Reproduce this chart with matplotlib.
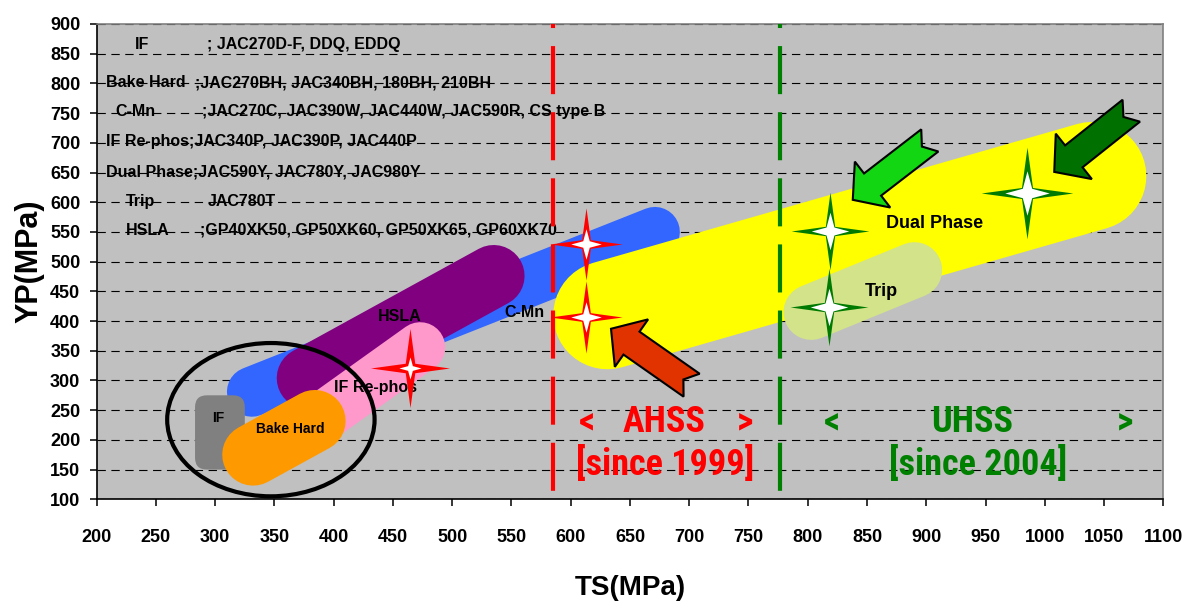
import numpy as np
import matplotlib
matplotlib.use("Agg")
import matplotlib.pyplot as plt
from matplotlib import font_manager as fm
from matplotlib.path import Path
from matplotlib.patches import Ellipse, FancyBboxPatch, Polygon

plt.rcParams['font.family'] = ['Liberation Sans', 'DejaVu Sans']
plt.rcParams['font.weight'] = 'bold'
plt.rcParams['lines.scale_dashes'] = False

# steel families: capsule from (TS, YP) start to (TS, YP) end
band_names = ['C-Mn', 'HSLA', 'IF Re-phos', 'Bake Hard', 'Dual Phase', 'Trip']
band_start = [(331, 281), (378, 304), (393, 242), (332, 175), (631, 410), (803, 415)]
band_end = [(671, 550), (535, 476), (473, 356), (384, 232), (1040, 644), (890, 486)]
if_box_ts = [283, 325]
if_box_yp = [150, 275]

# star markers (TS, YP)
red_stars_ts = [613, 613, 464]
red_stars_yp = [530, 407, 321]
green_stars_ts = [819, 818, 985]
green_stars_yp = [552, 424, 616]

# arrows (tip, tail) in TS / YP
arrow_tips = [(634, 387), (838, 604), (1008, 651)]
arrow_tails = [(702, 292), (903, 704), (1073, 754)]

ahss_ts = 585
uhss_ts = 777

legend_names = ['IF', 'Bake Hard', 'C-Mn', 'IF Re-phos;JAC340P, JAC390P, JAC440P',
                'Dual Phase;JAC590Y, JAC780Y, JAC980Y', 'Trip', 'HSLA']
legend_grades = ['; JAC270D-F, DDQ, EDDQ', ';JAC270BH, JAC340BH, 180BH, 210BH',
                 ';JAC270C, JAC390W, JAC440W, JAC590R, CS type B', '', '',
                 'JAC780T', ';GP40XK50, GP50XK60, GP50XK65, GP60XK70']

x_ticks = list(range(200, 1101, 50))
y_ticks = list(range(100, 901, 50))

# pick a condensed face for the big region labels if one is installed
names = {f.name for f in fm.fontManager.ttflist}
narrow = None
narrow_stretch = 'normal'
for cand in ['Liberation Sans Narrow', 'Arial Narrow', 'Roboto Condensed', 'Open Sans Condensed',
             'Noto Sans Condensed', 'DejaVu Sans Condensed']:
    if cand in names:
        narrow = cand
        break
if narrow is None:
    for f in fm.fontManager.ttflist:
        if f.stretch in ('condensed', 'semi-condensed') and f.weight in ('bold', 700):
            narrow = f.name
            narrow_stretch = f.stretch
            break
region_size = 26 if narrow else 22
if narrow is None:
    narrow = 'Liberation Sans'

fig = plt.figure(figsize=(11.92, 6.13), dpi=100)
ax = fig.add_axes([0.0811, 0.1855, 0.8948, 0.7754])
ax.set_xlim(200, 1100)
ax.set_ylim(100, 900)
ax.set_facecolor('#c0c0c0')

# grid / spines / ticks
ax.set_axisbelow(True)
ax.yaxis.grid(True, color='black', lw=0.8, linestyle=(0, (6, 4)))
ax.set_xticks(x_ticks)
ax.set_yticks(y_ticks)
ax.tick_params(axis='x', direction='out', length=5.3, width=1.1, pad=16, labelsize=13)
ax.tick_params(axis='y', direction='out', length=4.8, width=1.1, pad=7, labelsize=13)
for s in ['left', 'bottom']:
    ax.spines[s].set_color('black')
    ax.spines[s].set_linewidth(1.2)
for s in ['top', 'right']:
    ax.spines[s].set_color('#808080')
    ax.spines[s].set_linewidth(1.2)

ax.set_xlabel('TS(MPa)', fontsize=20, fontweight='bold', labelpad=21)
ax.set_ylabel('YP(MPa)', fontsize=22, fontweight='bold', labelpad=4)

# legend text block (under the grid lines)
leg_x = [232, 208, 216, 208, 208, 225, 225]
grade_x = [293, 283, 289, None, None, 294, 287]
leg_y = [865, 801, 752, 702, 651, 601, 553]
for name, grade, xn, xg, yy in zip(legend_names, legend_grades, leg_x, grade_x, leg_y):
    ax.text(xn, yy, name, fontsize=11.5, va='center', ha='left', zorder=0.3)
    if xg is not None:
        ax.text(xg, yy, grade, fontsize=11.5, va='center', ha='left', zorder=0.3)

# capsules
band_colors = ['#3366ff', '#800080', '#ff99cc', '#ff9900', '#ffff00', '#d3e38a']
band_widths = [36, 44.5, 36, 44.5, 78, 40]
band_z = [2, 3, 4, 6, 3.5, 4.5]
for name, st, en, c, w, z in zip(band_names, band_start, band_end, band_colors, band_widths, band_z):
    ax.plot([st[0], en[0]], [st[1], en[1]], color=c, lw=w, solid_capstyle='round', zorder=z)
ax.add_patch(FancyBboxPatch((if_box_ts[0], if_box_yp[0]), if_box_ts[1] - if_box_ts[0],
                            if_box_yp[1] - if_box_yp[0],
                            boxstyle='round,pad=0,rounding_size=10', mutation_aspect=2,
                            fc='#808080', ec='none', zorder=5))

# ellipse around IF / Bake Hard
ax.add_patch(Ellipse((347, 234), 175, 258, fill=False, ec='black', lw=3, zorder=7))

# vertical dashed separators
ax.plot([ahss_ts, ahss_ts], [900, 100], color='#ff0000', lw=3,
        linestyle=(31.7, (34.6, 13)), zorder=8)
ax.plot([uhss_ts, uhss_ts], [900, 100], color='#008000', lw=3,
        linestyle=(31.7, (34.6, 13)), zorder=8)


def star(r_in):
    verts = []
    for k in range(8):
        a = np.pi / 2 + k * np.pi / 4
        r = 1.0 if k % 2 == 0 else r_in
        verts.append((r * np.cos(a), r * np.sin(a)))
    verts.append(verts[0])
    return Path(verts, closed=True)


outer = star(0.17)
inner = star(0.3)
ax.plot(red_stars_ts[:2], red_stars_yp[:2], ls='none', marker=outer, ms=52, color='#ff0000', mew=0, zorder=10)
ax.plot(red_stars_ts[:2], red_stars_yp[:2], ls='none', marker=inner, ms=22, color='white', mew=0, zorder=11)
ax.plot(red_stars_ts[2:], red_stars_yp[2:], ls='none', marker=outer, ms=57, color='#ff0000', mew=0, zorder=10)
ax.plot(red_stars_ts[2:], red_stars_yp[2:], ls='none', marker=inner, ms=16, color='white', mew=0, zorder=11)
ax.plot(green_stars_ts[:2], green_stars_yp[:2], ls='none', marker=outer, ms=56, color='#007a00', mew=0, zorder=10)
ax.plot(green_stars_ts[:2], green_stars_yp[:2], ls='none', marker=inner, ms=27, color='white', mew=0, zorder=11)
ax.plot(green_stars_ts[2:], green_stars_yp[2:], ls='none', marker=outer, ms=66, color='#007a00', mew=0, zorder=10)
ax.plot(green_stars_ts[2:], green_stars_yp[2:], ls='none', marker=inner, ms=32, color='white', mew=0, zorder=11)


def notched_arrow(tip, tail, head_len=25, head_w=58, shaft_w=28, notch=10):
    # geometry built in pixels so the arrow keeps its shape, then mapped back
    p_tip = ax.transData.transform(tip)
    p_tail = ax.transData.transform(tail)
    u = (p_tip - p_tail) / np.hypot(*(p_tip - p_tail))
    n = np.array([-u[1], u[0]])
    base = p_tip - u * head_len
    pts = [p_tip, base + n * head_w / 2, base + n * shaft_w / 2, p_tail + n * shaft_w / 2,
           p_tail + u * notch, p_tail - n * shaft_w / 2, base - n * shaft_w / 2,
           base - n * head_w / 2]
    return ax.transData.inverted().transform(np.array(pts))


arrow_colors = ['#e03300', '#11d611', '#007000']
for tip, tail, c in zip(arrow_tips, arrow_tails, arrow_colors):
    ax.add_patch(Polygon(notched_arrow(tip, tail), closed=True, fc=c, ec='black', lw=1.5, zorder=12))

# shape labels
ax.text(303, 237, 'IF', fontsize=10, ha='center', va='center', zorder=9)
ax.text(363, 218, 'Bake Hard', fontsize=10, ha='center', va='center', zorder=9)
ax.text(456, 407, 'HSLA', fontsize=11.5, ha='center', va='center', zorder=9)
ax.text(435, 288, 'IF Re-phos', fontsize=11.5, ha='center', va='center', zorder=9)
ax.text(561, 414, 'C-Mn', fontsize=11.5, ha='center', va='center', zorder=9)
ax.text(907, 565, 'Dual Phase', fontsize=13, ha='center', va='center', zorder=9)
ax.text(862, 450, 'Trip', fontsize=13, ha='center', va='center', zorder=9)

# region labels
rk = dict(fontsize=region_size, ha='center', va='center', family=narrow,
          fontstretch=narrow_stretch, zorder=9)
for xx, s in zip([614, 679, 747], ['<', 'AHSS', '>']):
    ax.text(xx, 230, s, color='#ff0000', **rk)
ax.text(680, 158, '[since 1999]', color='#ff0000', **rk)
for xx, s in zip([820, 939, 1068], ['<', 'UHSS', '>']):
    ax.text(xx, 230, s, color='#008000', **rk)
ax.text(944, 158, '[since 2004]', color='#008000', **rk)

fig.savefig('out.png', dpi=100)
